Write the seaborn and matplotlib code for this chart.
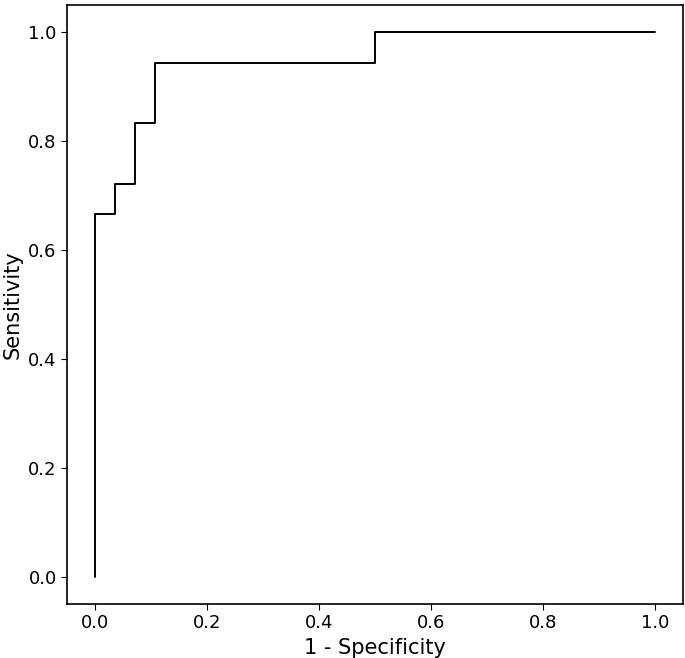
import numpy as np
import pandas as pd
import matplotlib
matplotlib.use('Agg')
import matplotlib.pyplot as plt
import seaborn as sns

# ROC curve points (false positive rate / true positive rate)
fpr = [0.0, 0.0, 0.036, 0.036, 0.071, 0.071, 0.107, 0.107, 0.5, 0.5, 1.0]
tpr = [0.0, 0.667, 0.667, 0.722, 0.722, 0.833, 0.833, 0.944, 0.944, 1.0, 1.0]

roc = pd.DataFrame({'fpr': fpr, 'tpr': tpr})

sns.set_style('ticks')
plt.rcParams['font.family'] = ['DejaVu Sans']
plt.rcParams['text.color'] = 'black'
plt.rcParams['axes.labelcolor'] = 'black'
plt.rcParams['xtick.color'] = 'black'
plt.rcParams['ytick.color'] = 'black'

fig = plt.figure(figsize=(6.85, 6.58), dpi=100)
ax = fig.add_axes([0.098, 0.082, 0.899, 0.910])
sns.lineplot(data=roc, x='fpr', y='tpr', sort=False, estimator=None,
             color='black', linewidth=1.4, ax=ax)

ax.set_xlabel('1 - Specificity', fontsize=15)
ax.set_ylabel('Sensitivity', fontsize=15)
ax.tick_params(labelsize=13, length=4)
for s in ax.spines.values():
    s.set_color('black')
    s.set_linewidth(1.2)

fig.savefig('out.png', dpi=100)
